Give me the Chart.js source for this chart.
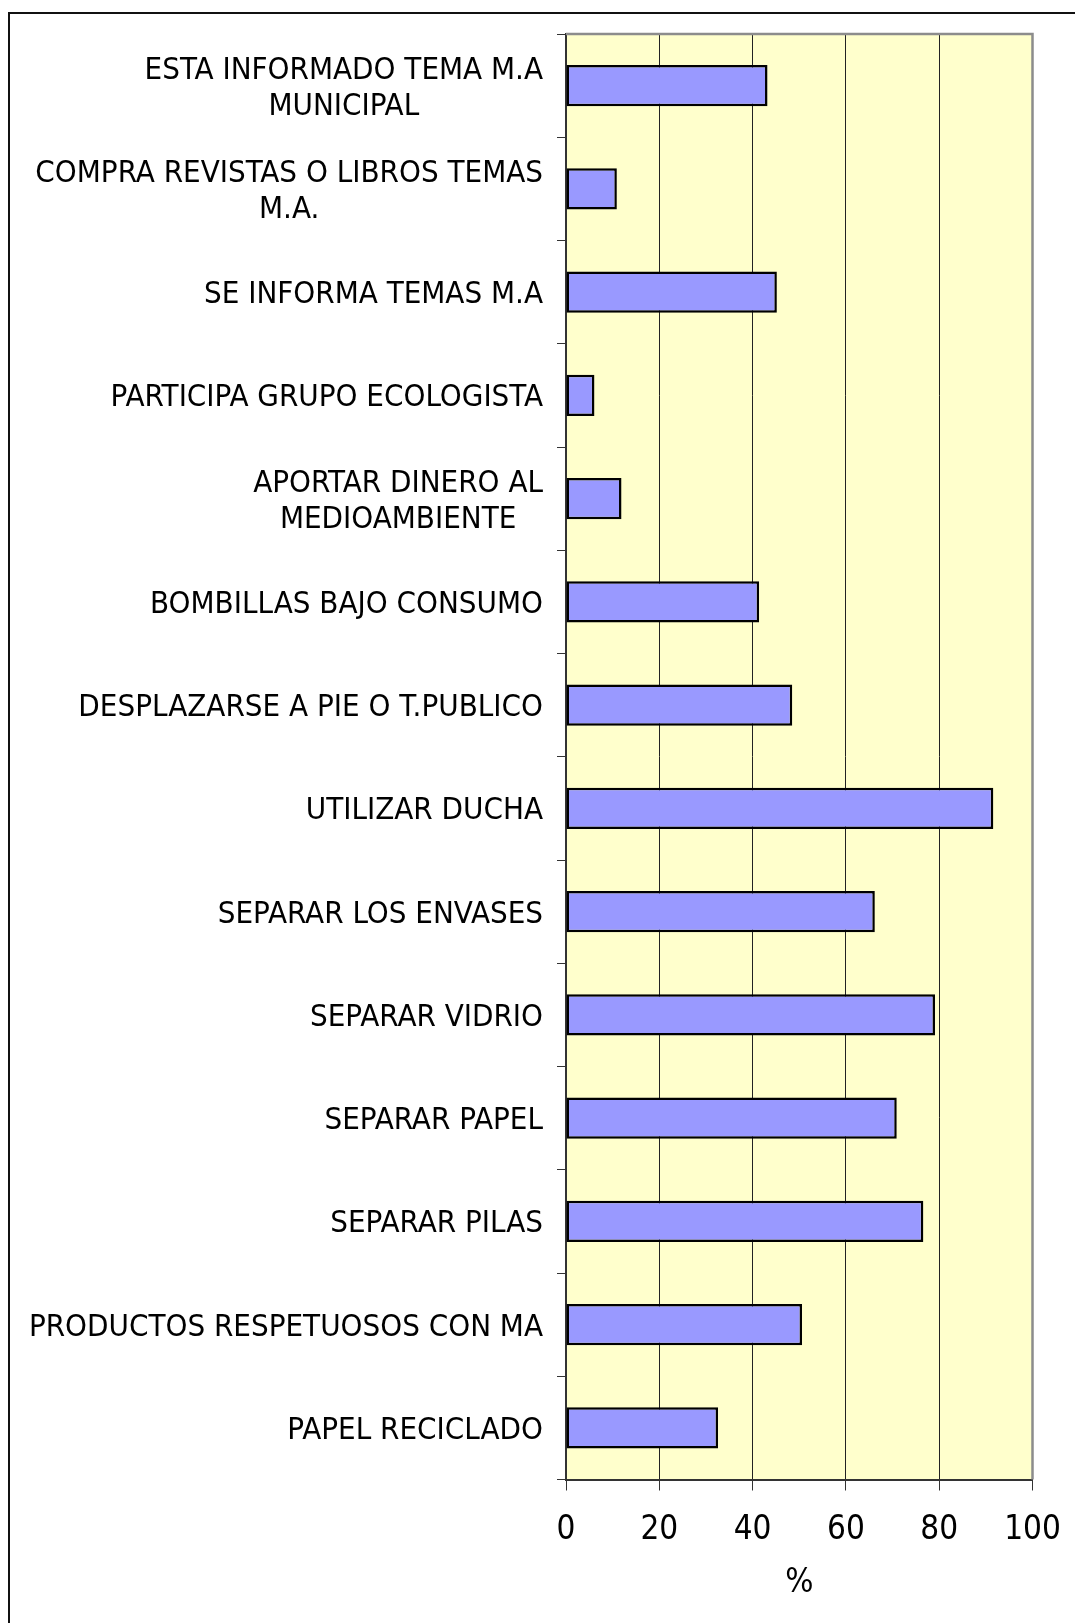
<!DOCTYPE html>
<html>
<head>
<meta charset="utf-8">
<title>Comportamientos medioambientales</title>
<script src="https://cdn.jsdelivr.net/npm/chart.js@4.4.1/dist/chart.umd.min.js"></script>
<style>
    body { margin: 0; background: #fff; }
    #frame {
        position: absolute;
        left: 8px;
        top: 12px;
        width: 1200px;
        height: 1800px;
        border-left: 2px solid #111;
        border-top: 2px solid #111;
        pointer-events: none;
    }
    #chart { position: absolute; left: 0; top: 0; }
</style>
</head>
<body>
<canvas id="chart" width="1075" height="1623"></canvas>
<div id="frame"></div>
<script>
// categories (top to bottom), multi-line ones split the way the original wraps them
const categories = [
    ['ESTA INFORMADO TEMA M.A', 'MUNICIPAL'],
    ['COMPRA REVISTAS O LIBROS TEMAS', 'M.A.'],
    ['SE INFORMA TEMAS M.A'],
    ['PARTICIPA GRUPO ECOLOGISTA'],
    ['APORTAR DINERO AL', 'MEDIOAMBIENTE'],
    ['BOMBILLAS BAJO CONSUMO'],
    ['DESPLAZARSE A PIE O T.PUBLICO'],
    ['UTILIZAR DUCHA'],
    ['SEPARAR LOS ENVASES'],
    ['SEPARAR VIDRIO'],
    ['SEPARAR PAPEL'],
    ['SEPARAR PILAS'],
    ['PRODUCTOS RESPETUOSOS CON MA'],
    ['PAPEL RECICLADO']
];

// percentages
const percentages = [43.2, 10.9, 45.2, 6.1, 11.9, 41.4, 48.5, 91.6, 66.2, 79.1, 70.9, 76.6, 50.6, 32.6];

const xTicks = [0, 20, 40, 60, 80, 100];
const xTitle = '%';

const FONT = '"DejaVu Sans Condensed", "DejaVu Sans", sans-serif';
const LABEL_SIZE = 31;
const LABEL_LINE = 36;
const LABEL_GAP = 23;
const LABEL_SHIFT = 3;

Chart.defaults.font.family = FONT;
Chart.defaults.color = '#000';

// yellow plot background
const plotBackground = {
    id: 'plotBackground',
    beforeDraw(chart) {
        const { ctx, chartArea: a } = chart;
        ctx.save();
        ctx.fillStyle = '#FFFFCC';
        ctx.fillRect(a.left, a.top, a.right - a.left, a.bottom - a.top);
        ctx.restore();
    },
    afterDraw(chart) {
        // grey top/right edge of the plot area
        const { ctx, chartArea: a } = chart;
        ctx.save();
        ctx.strokeStyle = '#8c8c8c';
        ctx.lineWidth = 2.5;
        ctx.beginPath();
        ctx.moveTo(a.left, a.top);
        ctx.lineTo(a.right, a.top);
        ctx.lineTo(a.right, a.bottom);
        ctx.stroke();
        ctx.restore();
    }
};

// category labels: lines centred on each other, block right-aligned to the axis
const categoryLabels = {
    id: 'categoryLabels',
    afterDraw(chart) {
        const { ctx } = chart;
        const y = chart.scales.y;
        ctx.save();
        ctx.font = `${LABEL_SIZE}px ${FONT}`;
        ctx.fillStyle = '#000';
        ctx.textAlign = 'center';
        ctx.textBaseline = 'middle';
        categories.forEach((lines, i) => {
            const cy = y.getPixelForValue(i) + LABEL_SHIFT;
            const w = Math.max(...lines.map(l => ctx.measureText(l).width));
            const cx = y.right - LABEL_GAP - w / 2;
            lines.forEach((line, j) => {
                ctx.fillText(line, cx, cy + (j - (lines.length - 1) / 2) * LABEL_LINE);
            });
        });
        ctx.restore();
    }
};

new Chart(document.getElementById('chart'), {
    type: 'bar',
    data: {
        labels: categories,
        datasets: [{
            data: percentages,
            backgroundColor: '#9999FF',
            borderColor: '#000',
            borderWidth: 2.5,
            borderSkipped: false,
            barPercentage: 0.4,
            categoryPercentage: 1
        }]
    },
    options: {
        indexAxis: 'y',
        responsive: false,
        animation: false,
        layout: { padding: { top: 34, right: 42.5, left: 0, bottom: 0 } },
        plugins: {
            legend: { display: false },
            tooltip: { enabled: false }
        },
        scales: {
            x: {
                min: xTicks[0],
                max: xTicks[xTicks.length - 1],
                afterBuildTicks: scale => {
                    scale.ticks = xTicks.map(v => ({ value: v }));
                },
                ticks: {
                    color: '#000',
                    font: { size: 33 },
                    padding: 20,
                    maxRotation: 0
                },
                grid: {
                    color: '#222',
                    lineWidth: 1,
                    tickLength: 11,
                    tickColor: '#333'
                },
                border: { color: '#333', width: 2 },
                title: {
                    display: true,
                    text: xTitle,
                    color: '#000',
                    font: { size: 33 },
                    padding: { top: 0, bottom: 20 }
                },
                afterFit: scale => {
                    scale.height = 143.5;
                    scale.paddingLeft = 0;
                    scale.paddingRight = 0;
                }
            },
            y: {
                ticks: { display: false },
                grid: {
                    drawOnChartArea: false,
                    offset: true,
                    tickLength: 9,
                    tickColor: '#333'
                },
                border: { color: '#333', width: 2 },
                afterFit: scale => { scale.width = 566; }
            }
        }
    },
    plugins: [plotBackground, categoryLabels]
});
</script>
</body>
</html>
